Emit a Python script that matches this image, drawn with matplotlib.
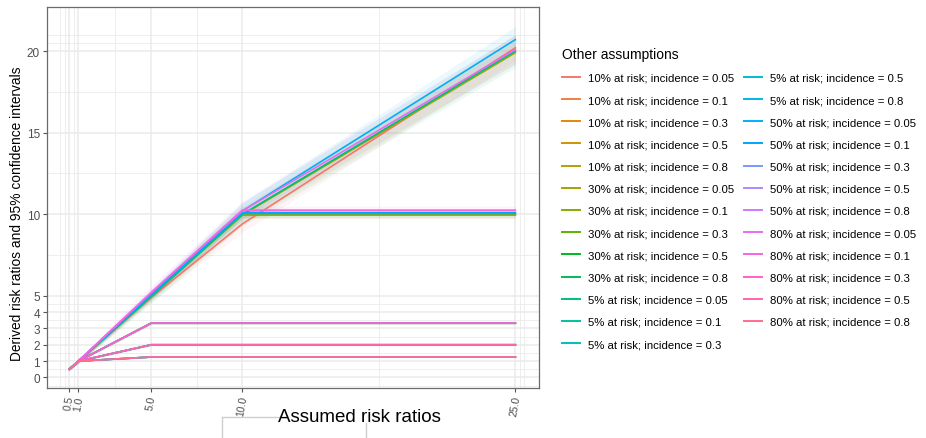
import numpy as np
import matplotlib
matplotlib.use("Agg")
import matplotlib.pyplot as plt
from matplotlib.lines import Line2D

plt.rcParams['font.family'] = ['Liberation Sans', 'DejaVu Sans']

# --- DATA ---
assumed_rr = [0.5, 1.0, 5.0, 10.0, 25.0]

labels = [
    "10% at risk; incidence = 0.05", "10% at risk; incidence = 0.1",
    "10% at risk; incidence = 0.3", "10% at risk; incidence = 0.5",
    "10% at risk; incidence = 0.8",
    "30% at risk; incidence = 0.05", "30% at risk; incidence = 0.1",
    "30% at risk; incidence = 0.3", "30% at risk; incidence = 0.5",
    "30% at risk; incidence = 0.8",
    "5% at risk; incidence = 0.05", "5% at risk; incidence = 0.1",
    "5% at risk; incidence = 0.3", "5% at risk; incidence = 0.5",
    "5% at risk; incidence = 0.8",
    "50% at risk; incidence = 0.05", "50% at risk; incidence = 0.1",
    "50% at risk; incidence = 0.3", "50% at risk; incidence = 0.5",
    "50% at risk; incidence = 0.8",
    "80% at risk; incidence = 0.05", "80% at risk; incidence = 0.1",
    "80% at risk; incidence = 0.3", "80% at risk; incidence = 0.5",
    "80% at risk; incidence = 0.8",
]

derived_rr = [
    [0.5, 1.0, 4.90, 9.40, 20.20],
    [0.5, 1.0, 5.00, 10.00, 10.00],
    [0.5, 1.0, 3.33, 3.33, 3.33],
    [0.5, 1.0, 2.00, 2.00, 2.00],
    [0.5, 1.0, 1.25, 1.25, 1.25],
    [0.5, 1.0, 5.00, 9.95, 19.90],
    [0.5, 1.0, 5.00, 9.95, 9.95],
    [0.5, 1.0, 3.33, 3.33, 3.33],
    [0.5, 1.0, 2.00, 2.00, 2.00],
    [0.5, 1.0, 1.25, 1.25, 1.25],
    [0.5, 1.0, 4.95, 10.00, 20.00],
    [0.5, 1.0, 5.00, 10.05, 10.05],
    [0.5, 1.0, 3.33, 3.33, 3.33],
    [0.5, 1.0, 2.00, 2.00, 2.00],
    [0.5, 1.0, 1.25, 1.25, 1.25],
    [0.5, 1.0, 5.10, 10.20, 20.70],
    [0.5, 1.0, 5.10, 10.10, 10.10],
    [0.5, 1.0, 3.33, 3.33, 3.33],
    [0.5, 1.0, 2.00, 2.00, 2.00],
    [0.5, 1.0, 1.25, 1.25, 1.25],
    [0.5, 1.0, 5.20, 10.20, 20.10],
    [0.5, 1.0, 5.20, 10.25, 10.25],
    [0.5, 1.0, 3.33, 3.33, 3.33],
    [0.5, 1.0, 2.00, 2.00, 2.00],
    [0.5, 1.0, 1.25, 1.25, 1.25],
]

# half-width of the 95% CI at each assumed RR
ci_half = [
    [0.05, 0.10, 0.25, 0.50, 0.80],
    [0.05, 0.10, 0.20, 0.25, 0.25],
    [0.03, 0.05, 0.08, 0.08, 0.08],
    [0.03, 0.05, 0.05, 0.05, 0.05],
    [0.02, 0.03, 0.03, 0.03, 0.03],
    [0.05, 0.10, 0.30, 0.50, 0.70],
    [0.05, 0.10, 0.20, 0.20, 0.20],
    [0.03, 0.05, 0.08, 0.08, 0.08],
    [0.03, 0.05, 0.05, 0.05, 0.05],
    [0.02, 0.03, 0.03, 0.03, 0.03],
    [0.05, 0.15, 0.40, 0.70, 1.00],
    [0.05, 0.10, 0.25, 0.25, 0.25],
    [0.03, 0.05, 0.08, 0.08, 0.08],
    [0.03, 0.05, 0.05, 0.05, 0.05],
    [0.02, 0.03, 0.03, 0.03, 0.03],
    [0.05, 0.10, 0.30, 0.50, 0.80],
    [0.05, 0.10, 0.20, 0.20, 0.20],
    [0.03, 0.05, 0.08, 0.08, 0.08],
    [0.03, 0.05, 0.05, 0.05, 0.05],
    [0.02, 0.03, 0.03, 0.03, 0.03],
    [0.10, 0.15, 0.40, 0.60, 0.90],
    [0.05, 0.10, 0.25, 0.25, 0.25],
    [0.03, 0.05, 0.08, 0.08, 0.08],
    [0.03, 0.05, 0.05, 0.05, 0.05],
    [0.02, 0.03, 0.03, 0.03, 0.03],
]

x_breaks = [0.5, 1.0, 5.0, 10.0, 25.0]
x_ticklabels = ["0.5", "1.0", "5.0", "10.0", "25.0"]
y_breaks = [0, 1, 2, 3, 4, 5, 10, 15, 20]


# --- ggplot-like hue palette (HCL, c=100, l=65) ---
def hcl_to_hex(h, c=100.0, l=65.0):
    Xn, Yn, Zn = 95.047, 100.0, 108.883
    hr = np.deg2rad(h)
    u, v = c * np.cos(hr), c * np.sin(hr)
    Y = Yn * ((l + 16) / 116) ** 3
    den = Xn + 15 * Yn + 3 * Zn
    un, vn = 4 * Xn / den, 9 * Yn / den
    up = u / (13 * l) + un
    vp = v / (13 * l) + vn
    X = 9.0 * Y * up / (4 * vp)
    Z = -X / 3 - 5 * Y + 3 * Y / vp
    xyz = np.array([X, Y, Z]) / 100.0
    m = np.array([[3.240479, -1.537150, -0.498535],
                  [-0.969256, 1.875992, 0.041556],
                  [0.055648, -0.204043, 1.057311]])
    rgb = m @ xyz
    rgb = np.where(rgb > 0.00304, 1.055 * np.power(np.clip(rgb, 1e-9, None), 1 / 2.4) - 0.055, 12.92 * rgb)
    rgb = np.clip(rgb, 0, 1)
    return matplotlib.colors.to_hex(rgb)


n = len(labels)
hues = np.linspace(15, 375, n + 1)[:n]
colors = [hcl_to_hex(h) for h in hues]

# --- PLOT ---
fig = plt.figure(figsize=(9.26, 4.39), dpi=100)
ax = fig.add_axes([47 / 926, 1 - 389 / 439, (539 - 47) / 926, (389 - 8) / 439])

x = np.array(assumed_rr)
for i in range(n):
    y = np.array(derived_rr[i])
    h = np.array(ci_half[i])
    ax.fill_between(x, y - h, y + h, color=colors[i], alpha=0.08, lw=0, zorder=2)
for i in range(n):
    ax.plot(x, derived_rr[i], color=colors[i], lw=1.2, zorder=3)

ax.set_xlim(-0.73, 26.3)
ax.set_ylim(-0.65, 22.7)

grid_col = "#ebebeb"
x_minor = [0.0, 0.25, 0.75, 3.0, 7.5, 17.5, 25.25, 25.5]
y_minor = [-1, -0.5, 0.5, 1.5, 2.5, 3.5, 4.5, 7.5, 12.5, 17.5, 20.5, 21]
for v in x_minor:
    ax.axvline(v, color=grid_col, lw=0.6, zorder=0)
for v in y_minor:
    ax.axhline(v, color=grid_col, lw=0.6, zorder=0)
for v in x_breaks:
    ax.axvline(v, color=grid_col, lw=1.1, zorder=0)
for v in y_breaks:
    ax.axhline(v, color=grid_col, lw=1.1, zorder=0)

ax.set_xticks(x_breaks)
ax.set_xticklabels(x_ticklabels, rotation=80, fontsize=7.5, color="#4d4d4d")
ax.set_yticks(y_breaks)
ax.set_yticklabels([str(v) for v in y_breaks], fontsize=8.5, color="#4d4d4d")
ax.tick_params(axis="both", length=3, width=0.8, color="#555555", pad=2)
for s in ax.spines.values():
    s.set_color("#6b6b6b")
    s.set_linewidth(0.9)

ax.set_ylabel("Derived risk ratios and 95% confidence intervals", fontsize=9.9)
ax.yaxis.set_label_coords(-0.047, 0.46)
fig.text(359 / 926, 1 - 418 / 439, "Assumed risk ratios", fontsize=13.5,
         ha="center", va="center")

# stray frame lines under the axis title
fig.add_artist(Line2D([222 / 926, 222 / 926], [1 - 418 / 439, 0], color="#cfcfcf", lw=1))
fig.add_artist(Line2D([222 / 926, 280 / 926], [1 - 418 / 439, 1 - 418 / 439], color="#cfcfcf", lw=1))
fig.add_artist(Line2D([366 / 926, 366 / 926], [1 - 424 / 439, 0], color="#cfcfcf", lw=1))

handles = [Line2D([0], [0], color=c, lw=1.4) for c in colors]
leg = fig.legend(handles, labels, title="Other assumptions", ncol=2,
                 loc="upper left", bbox_to_anchor=(556 / 926, 1 - 42 / 439),
                 frameon=False, fontsize=8.2, title_fontsize=10,
                 handlelength=1.6, handletextpad=0.75, labelspacing=1.07,
                 columnspacing=0.8, borderpad=0, alignment="left")

fig.savefig("out.png", dpi=100)
